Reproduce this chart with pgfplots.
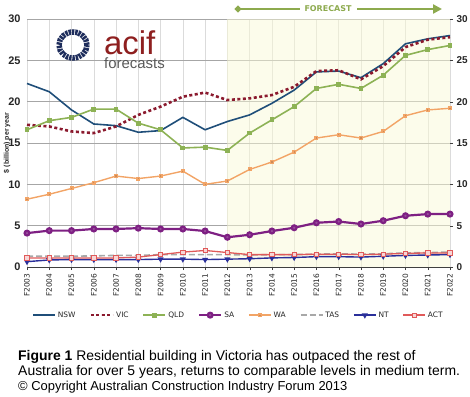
\documentclass[border=0pt]{standalone}
\usepackage{pgfplots}
\pgfplotsset{compat=1.18}
\usepackage{fontspec}
\setmainfont{Liberation Sans}
\newfontfamily\dejavu{DejaVu Sans}
\usetikzlibrary{arrows.meta}
\definecolor{nsw}{HTML}{1F4E79}
\definecolor{vic}{HTML}{8B1A2E}
\definecolor{qld}{HTML}{8DB255}
\definecolor{sa}{HTML}{7E2083}
\definecolor{wa}{HTML}{F2A466}
\definecolor{tas}{HTML}{A8A8A8}
\definecolor{nt}{HTML}{2A2F9A}
\definecolor{act}{HTML}{E05A5A}
\definecolor{fcbg}{HTML}{F9F9D7}
\definecolor{fgreen}{HTML}{8DAA4E}
\definecolor{navy}{HTML}{1E2D5C}
\definecolor{acifred}{HTML}{8E1F1F}
\begin{document}
\begin{tikzpicture}[x=1bp,y=1bp]
\path[use as bounding box] (0,0) rectangle (470,396);
\begin{axis}[
  at={(27bp,129bp)}, anchor=south west, scale only axis,
  width=423bp, height=248bp,
  xmin=0, xmax=19, ymin=0, ymax=30,
  clip=false,
  xtick={0,...,19},
  xticklabels={F2003,F2004,F2005,F2006,F2007,F2008,F2009,F2010,F2011,F2012,F2013,F2014,F2015,F2016,F2017,F2018,F2019,F2020,F2021,F2022},
  xticklabel style={rotate=90, anchor=east, font=\dejavu\fontsize{7.5}{8}\selectfont, text=black!85},
  ytick={0,5,...,30},
  yticklabel style={font=\bfseries\fontsize{11}{12}\selectfont, text=black!85},
  /pgf/number format/assume math mode=true,
  grid=major, x grid style={black!14}, y grid style={black!35},
  axis x line=bottom, axis y line=left,
  x axis line style={-, black!75, line width=0.8bp},
  y axis line style={draw=none},
  xtick style={black!75}, ytick style={draw=none},
  tick align=outside, major tick length=3bp,
  ylabel={\$ (billion) per year},
  ylabel style={at={(axis description cs:-0.047,0.5)}, anchor=center, font=\bfseries\fontsize{7}{8}\selectfont, text=black!85},
  legend style={at={(axis description cs:0.5,-0.194)}, anchor=center, draw=none, fill=none,
    font=\dejavu\fontsize{7.5}{8}\selectfont, text=black!85,
    /tikz/every even column/.append style={column sep=12bp}},
  legend columns=8,
  legend image code/.code={\draw[mark repeat=2,mark phase=2] plot coordinates {(0bp,0bp)(11bp,0bp)(22bp,0bp)};},
]
\addplot[fill=fcbg, fill opacity=0.5, draw=none, forget plot] coordinates {(9,30)(19,30)} \closedcycle;

\addplot[nsw, line width=1.6bp] coordinates {(0,22.2)(1,21.2)(2,19.0)(3,17.3)(4,17.1)(5,16.3)(6,16.5)(7,18.1)(8,16.6)(9,17.6)(10,18.4)(11,19.8)(12,21.4)(13,23.6)(14,23.7)(15,22.9)(16,24.6)(17,27.0)(18,27.6)(19,28.0)};
\addlegendentry{NSW}
\addplot[vic, line width=2.6bp, dash pattern=on 3bp off 2.5bp] coordinates {(0,17.2)(1,17.0)(2,16.4)(3,16.2)(4,17.0)(5,18.4)(6,19.4)(7,20.6)(8,21.1)(9,20.2)(10,20.4)(11,20.8)(12,21.8)(13,23.7)(14,23.8)(15,22.7)(16,24.3)(17,26.6)(18,27.5)(19,27.8)};
\addlegendentry{VIC}
\addplot[qld, line width=1.6bp, mark=square*, mark size=1.6bp, mark options={solid}] coordinates {(0,16.6)(1,17.7)(2,18.1)(3,19.1)(4,19.1)(5,17.4)(6,16.6)(7,14.4)(8,14.5)(9,14.1)(10,16.2)(11,17.8)(12,19.4)(13,21.6)(14,22.1)(15,21.6)(16,23.2)(17,25.6)(18,26.3)(19,26.8)};
\addlegendentry{QLD}
\addplot[sa, line width=2.2bp, mark=*, mark size=2.4bp, mark options={fill=sa!80!white}] coordinates {(0,4.1)(1,4.4)(2,4.4)(3,4.6)(4,4.6)(5,4.7)(6,4.6)(7,4.6)(8,4.35)(9,3.6)(10,3.9)(11,4.35)(12,4.75)(13,5.35)(14,5.5)(15,5.2)(16,5.6)(17,6.2)(18,6.4)(19,6.4)};
\addlegendentry{SA}
\addplot[wa, line width=1.4bp, mark=square*, mark size=1.3bp, mark options={fill=wa!85!black}] coordinates {(0,8.2)(1,8.8)(2,9.5)(3,10.2)(4,11.0)(5,10.7)(6,11.0)(7,11.6)(8,10.0)(9,10.4)(10,11.8)(11,12.7)(12,13.9)(13,15.6)(14,16.0)(15,15.6)(16,16.4)(17,18.3)(18,19.0)(19,19.2)};
\addlegendentry{WA}
\addplot[tas, line width=1.6bp, dash pattern=on 6bp off 3bp] coordinates {(0,1.3)(1,1.3)(2,1.3)(3,1.35)(4,1.4)(5,1.4)(6,1.5)(7,1.5)(8,1.5)(9,1.5)(10,1.45)(11,1.5)(12,1.5)(13,1.55)(14,1.6)(15,1.55)(16,1.6)(17,1.7)(18,1.75)(19,1.8)};
\addlegendentry{TAS}
\addplot[nt, line width=1.4bp, mark=triangle*, mark size=2.2bp, mark options={rotate=180}] coordinates {(0,0.65)(1,0.85)(2,0.9)(3,0.9)(4,0.9)(5,0.9)(6,0.95)(7,0.95)(8,0.9)(9,0.95)(10,1.0)(11,1.1)(12,1.15)(13,1.25)(14,1.25)(15,1.2)(16,1.3)(17,1.4)(18,1.45)(19,1.5)};
\addlegendentry{NT}
\addplot[act, line width=1.3bp, mark=square*, mark size=2.2bp, mark options={fill=act!25!white, line width=0.8bp}] coordinates {(0,1.1)(1,1.1)(2,1.1)(3,1.1)(4,1.1)(5,1.2)(6,1.5)(7,1.8)(8,2.0)(9,1.75)(10,1.5)(11,1.5)(12,1.5)(13,1.55)(14,1.55)(15,1.5)(16,1.55)(17,1.65)(18,1.7)(19,1.7)};
\addlegendentry{ACT}
\end{axis}
\begin{axis}[
  at={(27bp,129bp)}, anchor=south west, scale only axis,
  width=423bp, height=248bp,
  xmin=0, xmax=19, ymin=0, ymax=30,
  axis y line=right, axis x line=none, y axis line style={draw=none, -},
  ytick={0,5,...,30},
  ytick style={black!75}, tick align=outside, major tick length=3bp,
  yticklabel style={font=\bfseries\fontsize{10}{12}\selectfont, text=black!85},
  /pgf/number format/assume math mode=true,
]
\addplot[draw=none, forget plot] coordinates {(0,0)(19,30)};
\end{axis}
% logo
\draw[navy, line width=5.5bp, dash pattern=on 2.4bp off 0.9bp] (73,351) ellipse (14 and 13);
\node[anchor=north west, inner sep=0, align=left, font=\fontsize{15}{15}\selectfont] at (104,366)
  {\textcolor{acifred}{\fontsize{33}{15}\selectfont acif}\\\textcolor{black!65}{forecasts}};
% forecast arrow
\draw[fgreen, line width=2.5bp, {Circle[length=6bp]}-{Triangle[length=9bp,width=9bp]}] (235,387) -- (442,387);
\node[fill=white, text=fgreen, inner xsep=5bp, inner ysep=1bp, font=\dejavu\bfseries\fontsize{8}{9}\selectfont] at (328,387) {FORECAST};
% caption
\node[anchor=base west, inner sep=0, font=\fontsize{14}{15}\selectfont] at (18,36) {\textbf{Figure 1} Residential building in Victoria has outpaced the rest of};
\node[anchor=base west, inner sep=0, font=\fontsize{14}{15}\selectfont] at (18,21) {Australia for over 5 years, returns to comparable levels in medium term.};
\node[anchor=base west, inner sep=0, font=\fontsize{13}{14}\selectfont] at (18,6) {© Copyright Australian Construction Industry Forum 2013};
\end{tikzpicture}
\end{document}
